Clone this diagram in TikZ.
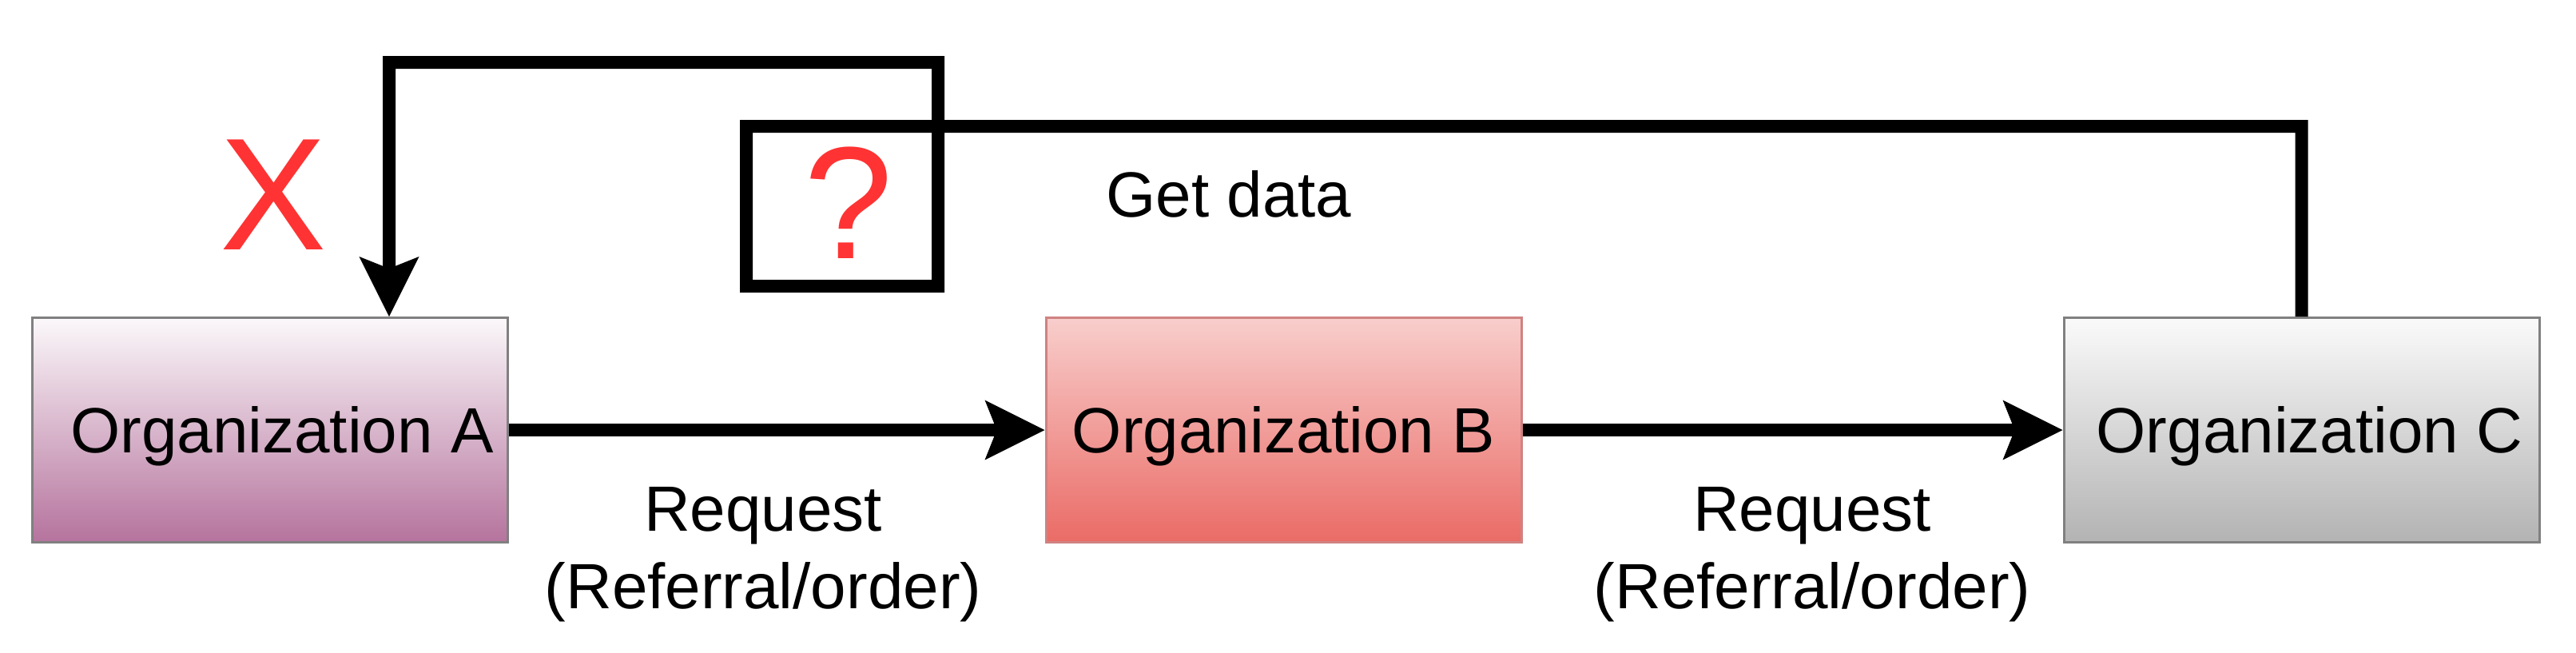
\documentclass[tikz,border=0pt]{standalone}
\usepackage{fontspec}
\setmainfont{Liberation Sans}
\usepackage{tikz}
\usetikzlibrary{arrows.meta,positioning}
\definecolor{purpletop}{HTML}{FBF8FA}
\definecolor{purplebot}{HTML}{B5739D}
\definecolor{redtop}{HTML}{F8CECC}
\definecolor{redbot}{HTML}{EA6B66}
\definecolor{redline}{HTML}{D08282}
\definecolor{graytop}{HTML}{FAFAFA}
\definecolor{graybot}{HTML}{B3B3B3}
\definecolor{boxline}{HTML}{808080}
\definecolor{alertred}{HTML}{FF3333}
\tikzset{
    org/.style={
                draw=boxline,
                line width=0.03cm,
                minimum width=5.95cm,
                minimum height=2.81cm,
                inner sep=0pt,
                text height=0.573cm,
                text depth=0pt,
                font=\fontsize{22.76pt}{27.46pt}\selectfont
            },
        label/.style={
                inner sep=0pt,
                align=center,
                font=\fontsize{22.76pt}{27.46pt}\selectfont
            },
        alert/.style={
                inner sep=0pt,
                anchor=base,
                text=alertred,
                font=\fontsize{56.9pt}{60pt}\selectfont
            },
        link/.style={
                line width=0.16cm,
                -{Stealth[length=0.75cm,width=0.75cm,inset=0.15cm,line width=0pt]}
            },
}

\begin{document}
\begin{tikzpicture}[
  orgA/.style={org, top color=purpletop, bottom color=purplebot},
  orgB/.style={org, draw=redline, top color=redtop, bottom color=redbot},
  orgC/.style={org, top color=graytop, bottom color=graybot},
]
\useasboundingbox (0,0) rectangle (32.24,-8.16);
% Organizations
\node[orgA] (orgA) at (3.38,-5.38) {\hspace*{0.3cm}Organization A};
\node[orgB] (orgB) at (16.065,-5.38) {Organization B};
\node[orgC] (orgC) at (28.805,-5.38) {\hspace*{0.2cm}Organization C};
% Requests
\draw[link] (orgA) -- (orgB);
\draw[link] (orgB) -- (orgC);
\node[label, anchor=base] (reqAB) at (9.55,-7.61) {Request\\(Referral/order)};
\node[label, anchor=base] (reqBC) at (22.68,-7.61) {Request\\(Referral/order)};
% Get data
\draw[link] (orgC.north) |- (9.34,-1.58) |- (11.74,-3.58) |- (4.87,-0.78)
  -- ([xshift=1.49cm]orgA.north);
\node[label, anchor=base] (getdata) at (15.38,-2.71) {Get data};
\node[alert] (cross) at (3.42,-3.12) {X};
\node[alert] (query) at (10.62,-3.23) {?};
\end{tikzpicture}
\end{document}
